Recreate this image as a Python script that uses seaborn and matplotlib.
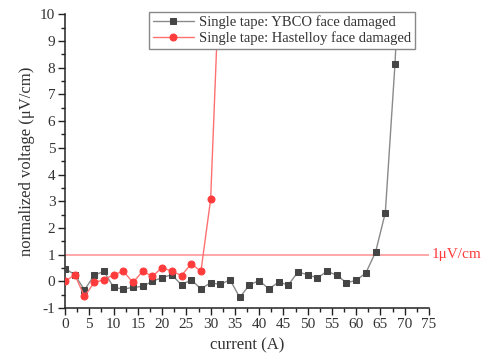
import numpy as np
import pandas as pd
import matplotlib
matplotlib.use("Agg")
import matplotlib.pyplot as plt
from matplotlib.ticker import MultipleLocator
import seaborn as sns

# YBCO face damaged (grey squares)
ybco_current = [0, 2, 4, 6, 8, 10, 12, 14, 16, 18, 20, 22, 24, 26, 28, 30, 32, 34,
                36, 38, 40, 42, 44, 46, 48, 50, 52, 54, 56, 58, 60, 62, 64, 66, 68, 70]
ybco_voltage = [0.48, 0.25, -0.32, 0.23, 0.38, -0.22, -0.29, -0.22, -0.19, 0.01, 0.14, 0.25,
                -0.13, 0.06, -0.28, -0.05, -0.11, 0.06, -0.6, -0.13, 0.03, -0.28, -0.03, -0.13,
                0.35, 0.25, 0.13, 0.38, 0.23, -0.05, 0.04, 0.32, 1.1, 2.57, 8.15, 16.0]

# Hastelloy face damaged (red circles)
hast_current = [0, 2, 4, 6, 8, 10, 12, 14, 16, 18, 20, 22, 24, 26, 28, 30, 32]
hast_voltage = [0.0, 0.25, -0.56, -0.04, 0.06, 0.25, 0.38, -0.04, 0.38, 0.19, 0.52, 0.38,
                0.22, 0.66, 0.38, 3.07, 12.3]

threshold = 1.0
labels = ["Single tape: YBCO face damaged", "Single tape: Hastelloy face damaged"]

sns.set_style("ticks")
plt.rcParams['font.family'] = ['Liberation Serif', 'DejaVu Serif']
plt.rcParams['axes.unicode_minus'] = False

fig = plt.figure(figsize=(4.82, 3.55), dpi=100)
ax = fig.add_axes([0.135, 0.132, 0.755, 0.828])

ax.axhline(threshold, color='#ff9a9a', lw=1.2, zorder=1)

df_y = pd.DataFrame({'current': ybco_current, 'voltage': ybco_voltage})
df_h = pd.DataFrame({'current': hast_current, 'voltage': hast_voltage})

sns.lineplot(data=df_y, x='current', y='voltage', ax=ax, color='#8a8a8a', lw=1.0,
             marker='s', markersize=4.5, markerfacecolor='#454545', markeredgecolor='#454545',
             label=labels[0], zorder=3)
sns.lineplot(data=df_h, x='current', y='voltage', ax=ax, color='#ff7070', lw=1.0,
             marker='o', markersize=5, markerfacecolor='#ff3b3b', markeredgecolor='#ff3b3b',
             label=labels[1], zorder=4)

ax.set_xlim(0, 75)
ax.set_ylim(-1, 10)
ax.xaxis.set_major_locator(MultipleLocator(5))
ax.xaxis.set_minor_locator(MultipleLocator(2.5))
ax.yaxis.set_major_locator(MultipleLocator(1))
ax.yaxis.set_minor_locator(MultipleLocator(0.5))
ax.tick_params(axis='both', which='major', direction='out', length=5, width=1,
               labelsize=11, color='#222222', labelcolor='#333333', pad=2)
ax.tick_params(axis='both', which='minor', direction='out', length=3, width=1, color='#222222')
for s in ['left', 'bottom']:
    ax.spines[s].set_linewidth(1.1)
    ax.spines[s].set_color('#222222')
sns.despine(ax=ax)

ax.set_xlabel('current (A)', fontsize=12, color='#333333', labelpad=5)
ax.set_ylabel('normalized voltage (μV/cm)', fontsize=12, color='#333333', labelpad=4)

ax.text(1.008, threshold, '1μV/cm', transform=ax.get_yaxis_transform(),
        color='#ff3b3b', fontsize=11, va='center', ha='left', clip_on=False)

leg = ax.legend(loc='upper right', bbox_to_anchor=(0.962, 1.008), fontsize=10.5,
                frameon=True, fancybox=False, framealpha=1, edgecolor='#888888',
                borderpad=0.25, labelspacing=0.15, handlelength=2.8, handletextpad=0.4,
                borderaxespad=0)
leg.get_frame().set_linewidth(1.0)
for t in leg.get_texts():
    t.set_color('#333333')

fig.savefig('out.png', dpi=100)
